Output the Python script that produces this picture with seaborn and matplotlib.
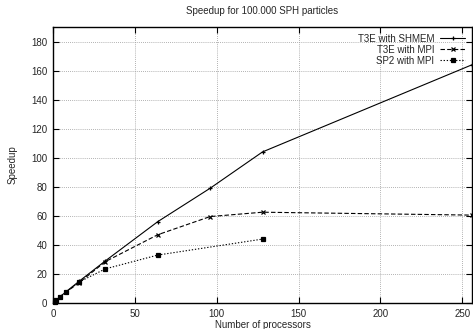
import pandas as pd
import matplotlib
matplotlib.use("Agg")
import matplotlib.pyplot as plt
import seaborn as sns

# Datos
procs_t3e = [1, 2, 4, 8, 16, 32, 64, 96, 128, 256]
shmem = [1, 2, 4, 7.8, 15, 29, 56, 79, 104, 164]
t3e_mpi = [1, 2, 4, 7.5, 14, 28.5, 47, 59.5, 62.5, 60.5]
procs_sp2 = [1, 2, 4, 8, 16, 32, 64, 128]
sp2_mpi = [1, 2, 4, 7.5, 14.5, 23.5, 33, 44]

series = ["T3E with SHMEM", "T3E with MPI", "SP2 with MPI"]
x_ticks = [0, 50, 100, 150, 200, 250]
y_ticks = [0, 20, 40, 60, 80, 100, 120, 140, 160, 180]

datos = [
    (procs_t3e, shmem, "+", (None, None)),
    (procs_t3e, t3e_mpi, "x", (4, 2)),
    (procs_sp2, sp2_mpi, "s", (1.2, 1.6)),
]

sns.set_style("ticks")
plt.rcParams["font.family"] = ["Liberation Sans", "DejaVu Sans"]
plt.rcParams["font.size"] = 7

fig = plt.figure(figsize=(4.73, 3.29), dpi=100)
ax = fig.add_axes([0.112, 0.079, 0.886, 0.839])

for nombre, (xs, ys, mk, dash) in zip(series, datos):
    df = pd.DataFrame({"procs": xs, "speedup": ys})
    kw = {} if dash[0] is None else {"dashes": dash}
    sns.lineplot(data=df, x="procs", y="speedup", color="black", marker=mk,
                 markersize=3.5 if mk != "s" else 2.6, markeredgecolor="black",
                 markeredgewidth=0.9, linewidth=0.8, label=nombre, ax=ax,
                 clip_on=False, **kw)

ax.set_xlim(0, 256)
ax.set_ylim(0, 190)
ax.set_xticks(x_ticks)
ax.set_yticks(y_ticks)
ax.grid(True, color="#999999", linestyle=(0, (1, 1.5)), linewidth=0.6)
ax.tick_params(direction="in", top=True, right=True, length=4, labelsize=7,
               color="black", pad=4)
for s in ax.spines.values():
    s.set_color("black")
    s.set_linewidth(1.0)

ax.set_title("Speedup for 100.000 SPH particles", fontsize=7, pad=9)
ax.set_xlabel("Number of processors", fontsize=7, labelpad=1)
ax.set_ylabel("Speedup", fontsize=7, labelpad=10)

leg = ax.legend(loc="upper right", frameon=False, markerfirst=False, fontsize=7,
                handlelength=2.6, labelspacing=0.1, borderaxespad=0.3, handletextpad=0.6)
for t in leg.get_texts():
    t.set_horizontalalignment("right")

fig.savefig("out.png", dpi=100)
